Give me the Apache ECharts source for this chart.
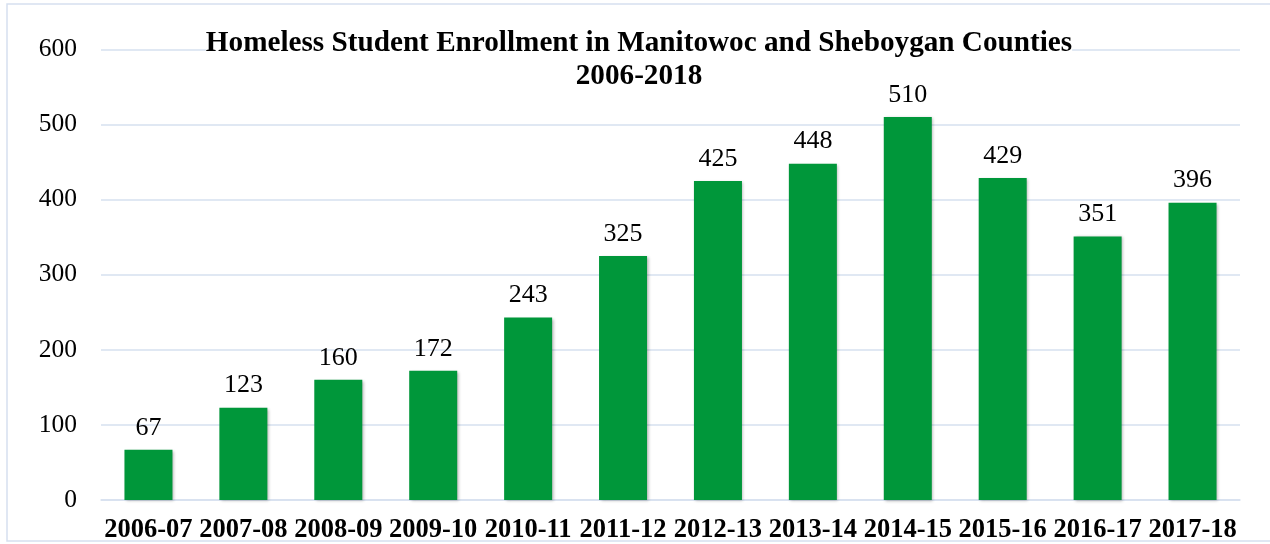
<!DOCTYPE html>
<html>
<head>
<meta charset="utf-8">
<script src="https://cdn.jsdelivr.net/npm/echarts@6/dist/echarts.min.js"></script>
<style>
  html, body { margin: 0; padding: 0; background: #fff; }
  #chart { width: 1270px; height: 544px; }
</style>
</head>
<body>
<div id="chart"></div>
<script>
// School years and homeless student counts
const schoolYears = ['2006-07', '2007-08', '2008-09', '2009-10', '2010-11', '2011-12',
                     '2012-13', '2013-14', '2014-15', '2015-16', '2016-17', '2017-18'];
const enrollment = [67, 123, 160, 172, 243, 325, 425, 448, 510, 429, 351, 396];
const titleLines = ['Homeless Student Enrollment in Manitowoc and Sheboygan Counties', '2006-2018'];

const serif = "'Liberation Serif', 'Times New Roman', serif";
const gridBlue = '#D6E0EF';

const chart = echarts.init(document.getElementById('chart'), null, { renderer: 'canvas' });
chart.setOption({
  animation: false,
  backgroundColor: '#fff',
  graphic: [{
    type: 'rect',
    silent: true,
    z: -10,
    shape: { x: 7, y: 4, width: 1275, height: 537 },
    style: { fill: 'none', stroke: gridBlue, lineWidth: 1.5 }
  }],
  title: {
    text: titleLines.join('\n'),
    left: 639,
    textAlign: 'center',
    top: 26.5,
    padding: 0,
    backgroundColor: '#fff',
    z: 3,
    textStyle: {
      fontFamily: serif,
      fontWeight: 'bold',
      fontSize: 29.2,
      lineHeight: 33,
      color: '#000'
    }
  },
  grid: { left: 101, right: 30, top: 49.5, bottom: 42.3, containLabel: false },
  xAxis: {
    type: 'category',
    data: schoolYears,
    axisLine: { show: true, lineStyle: { color: gridBlue, width: 1.5 } },
    axisTick: { show: false },
    axisLabel: {
      interval: 0,
      margin: 17,
      fontFamily: serif,
      fontWeight: 'bold',
      fontSize: 26.5,
      color: '#000'
    }
  },
  yAxis: {
    type: 'value',
    min: 0,
    max: 600,
    interval: 100,
    axisLine: { show: false },
    axisTick: { show: false },
    splitLine: { lineStyle: { color: gridBlue, width: 1.5 } },
    axisLabel: {
      margin: 24,
      fontFamily: serif,
      fontSize: 25.5,
      color: '#000'
    }
  },
  series: [{
    type: 'bar',
    z: 5,
    data: enrollment,
    barWidth: 48,
    itemStyle: {
      color: '#00973A',
      shadowColor: 'rgba(0,0,0,0.3)',
      shadowBlur: 3,
      shadowOffsetX: 1.5,
      shadowOffsetY: 1
    },
    label: {
      show: true,
      position: 'top',
      distance: 9,
      fontFamily: serif,
      fontSize: 26,
      color: '#000'
    }
  }]
});
</script>
</body>
</html>
